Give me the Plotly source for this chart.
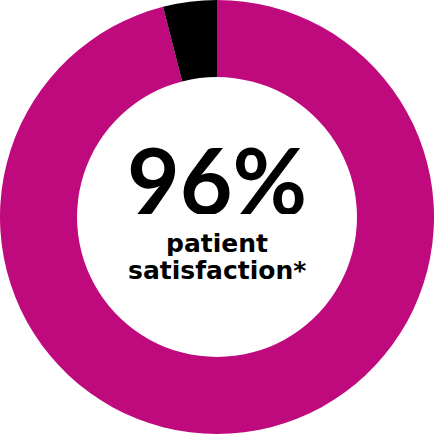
import plotly.graph_objects as go

labels = ['Satisfied', 'Other']
values = [96, 4]
colors = ['#BF0A7E', '#000000']
headline = '96%'
caption_lines = ['patient', 'satisfaction*']

fig = go.Figure()
fig.add_trace(go.Pie(labels=labels, values=values, hole=0.645, sort=False,
                     direction='clockwise', rotation=0, textinfo='none',
                     hoverinfo='skip', showlegend=False,
                     marker=dict(colors=colors, line=dict(width=0)),
                     domain=dict(x=[0, 1], y=[0, 1])))

big_font = 'Lato, "Open Sans", sans-serif'
small_font = '"DejaVu Sans", sans-serif'
fig.add_annotation(text=f'<b>{headline}</b>', x=0.5, y=0.588, xref='paper', yref='paper',
                   showarrow=False, xanchor='center', yanchor='middle', height=70,
                   font=dict(family=big_font, size=91, color='#000000'))
fig.add_annotation(text=f'<b>{caption_lines[0]}</b>', x=0.5, y=0.440, xref='paper', yref='paper',
                   showarrow=False, xanchor='center', yanchor='middle', height=26,
                   font=dict(family=small_font, size=25, color='#000000'))
fig.add_annotation(text=f'<b>{caption_lines[1]}</b>', x=0.5, y=0.377, xref='paper', yref='paper',
                   showarrow=False, xanchor='center', yanchor='middle', height=26,
                   font=dict(family=small_font, size=25, color='#000000'))

fig.update_layout(width=434, height=434, margin=dict(l=0, r=0, t=0, b=0),
                  paper_bgcolor='white', plot_bgcolor='white')
fig.write_html("out.html", config={'displayModeBar': False},
               post_script="document.body.style.margin='0';")
